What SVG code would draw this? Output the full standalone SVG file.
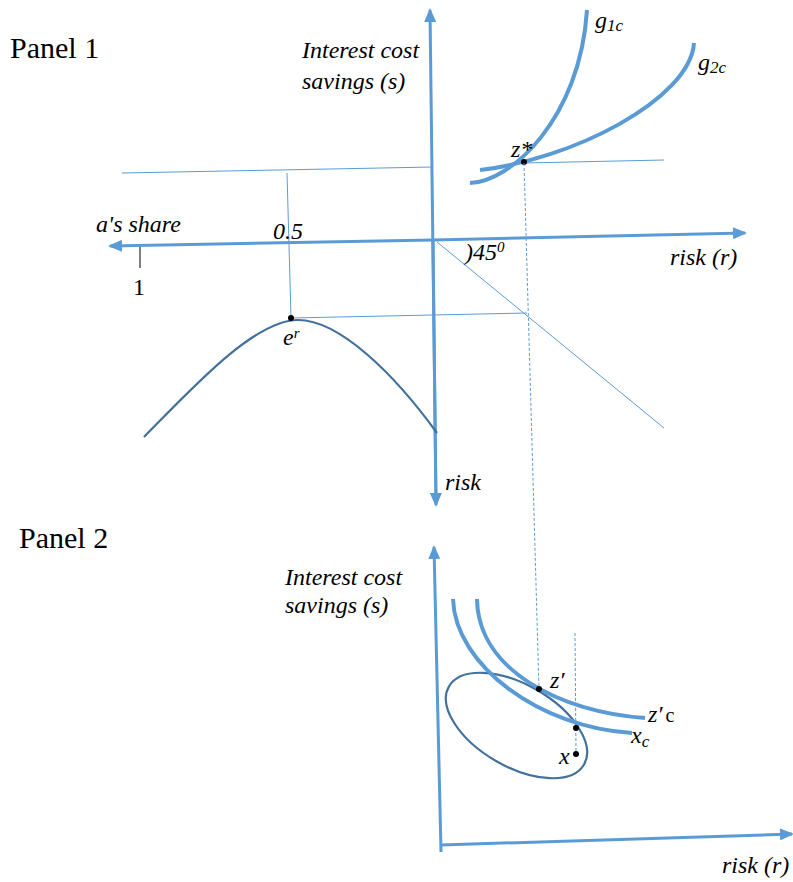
<svg xmlns="http://www.w3.org/2000/svg" width="793" height="882" viewBox="0 0 793 882">
<style>
text{font-family:'Liberation Serif','DejaVu Serif',serif;fill:#000}
.it{font-style:italic;font-size:24px}
.panel{font-size:30px}
.axis{stroke:#5B9BD5;stroke-width:3;fill:none}
.thin{stroke:#5B9BD5;stroke-width:1;fill:none}
.dash{stroke:#5B9BD5;stroke-width:1;stroke-dasharray:3 2;fill:none}
.curve{stroke:#5B9BD5;stroke-width:4;fill:none}
.dark{stroke:#41719C;stroke-width:2.2;fill:none}
.dot{fill:#000}
</style>
<defs>
<marker id="arr" viewBox="0 0 14 12" refX="12" refY="6" markerWidth="14" markerHeight="12" markerUnits="userSpaceOnUse" orient="auto">
<path d="M0,0 L14,6 L0,12 z" fill="#5B9BD5"/>
</marker>
</defs>

<g id="panel1">
<text class="panel" x="10" y="58">Panel 1</text>
<g id="axes1">
<line class="axis" x1="436" y1="500" x2="430" y2="10" marker-end="url(#arr)"/>
<line class="axis" x1="433" y1="240" x2="436" y2="505" marker-end="url(#arr)"/>
<line class="axis" x1="433" y1="240" x2="110" y2="246" marker-end="url(#arr)"/>
<line class="axis" x1="433" y1="240" x2="745" y2="233" marker-end="url(#arr)"/>
</g>
<g id="guides1">
<line class="thin" x1="122" y1="173" x2="433" y2="167"/>
<line class="thin" x1="287" y1="173" x2="291" y2="318"/>
<line class="thin" x1="291" y1="318" x2="527" y2="313"/>
<line class="thin" x1="437" y1="242" x2="664" y2="428"/>
<line class="thin" x1="524" y1="163" x2="664" y2="160"/>
<line x1="140" y1="247" x2="140" y2="268" stroke="#000" stroke-width="1"/>
</g>
<path id="parabola" class="dark" d="M144,437 C195,385 255,320 298,320 C340,320 395,375 437,433"/>
<path id="g1c" class="curve" d="M470,183 C510,182 580,120 587,10"/>
<path id="g2c" class="curve" d="M480,170 C570,160 690,100 694,43"/>
<circle class="dot" cx="291" cy="318" r="3"/>
<circle class="dot" cx="524" cy="162" r="3"/>
<g id="labels1">
<text class="it" x="302" y="58">Interest cost</text>
<text class="it" x="302" y="89">savings (s)</text>
<text class="it" x="96" y="232">a's share</text>
<text class="it" x="273" y="239">0.5</text>
<text x="133" y="295" font-size="24">1</text>
<text class="it" x="465" y="260">)45<tspan font-size="15" dy="-8">0</tspan></text>
<text class="it" x="670" y="265">risk (r)</text>
<text class="it" x="445" y="490">risk</text>
<text class="it" x="283" y="345">e<tspan font-size="15" dy="-7">r</tspan></text>
<text class="it" x="511" y="157">z*</text>
<text class="it" x="595" y="28">g<tspan font-size="17" dy="3">1c</tspan></text>
<text class="it" x="698" y="70">g<tspan font-size="17" dy="3">2c</tspan></text>
</g>
</g>

<g id="connectors">
<line class="dash" x1="524" y1="163" x2="539" y2="689"/>
<line class="dash" x1="575" y1="633" x2="576" y2="754"/>
</g>

<g id="panel2">
<text class="panel" x="19" y="548">Panel 2</text>
<g id="axes2">
<line class="axis" x1="441" y1="852" x2="434" y2="547" marker-end="url(#arr)"/>
<line class="axis" x1="441" y1="845" x2="792" y2="834" marker-end="url(#arr)"/>
</g>
<ellipse id="ellipse" class="dark" cx="516.5" cy="725.5" rx="78" ry="41" transform="rotate(30 516.5 725.5)"/>
<path id="zc" class="curve" d="M477,599 C478,670 560,712 645,718"/>
<path id="xc" class="curve" d="M453,599 C455,665 540,728 632,733"/>
<circle class="dot" cx="539" cy="689" r="3"/>
<circle class="dot" cx="576" cy="728" r="3"/>
<circle class="dot" cx="576" cy="754" r="3"/>
<g id="labels2">
<text class="it" x="285" y="585">Interest cost</text>
<text class="it" x="285" y="613">savings (s)</text>
<text class="it" x="550" y="688">z′</text>
<text class="it" x="648" y="722">z′<tspan font-style="normal" font-size="20" dx="3">c</tspan></text>
<text class="it" x="631" y="743">x<tspan font-size="17" dy="4">c</tspan></text>
<text class="it" x="559" y="764">x</text>
<text class="it" x="722" y="873">risk (r)</text>
</g>
</g>
</svg>
